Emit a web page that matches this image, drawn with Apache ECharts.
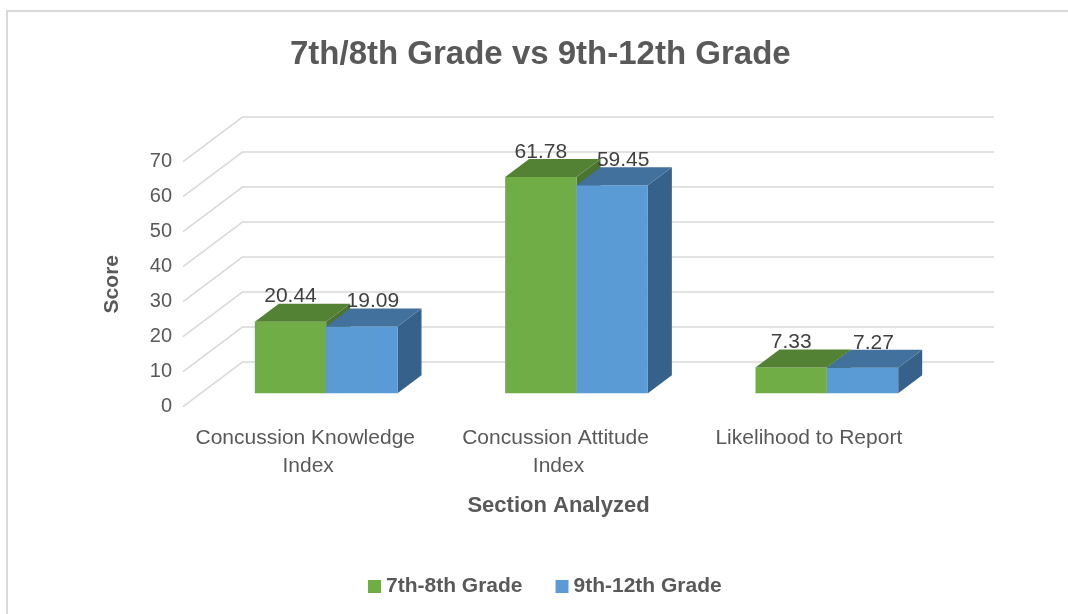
<!DOCTYPE html>
<html>
<head>
<meta charset="utf-8">
<script src="https://cdn.jsdelivr.net/npm/echarts@6/dist/echarts.min.js"></script>
<style>
  html, body { margin: 0; padding: 0; background: #fff; }
  #main { width: 1068px; height: 614px; }
</style>
</head>
<body>
<div id="main"></div>
<script>
var categories = ["Concussion Knowledge Index", "Concussion Attitude Index", "Likelihood to Report"];
var grade78 = [20.44, 61.78, 7.33];
var grade912 = [19.09, 59.45, 7.27];
var yTicks = [0, 10, 20, 30, 40, 50, 60, 70];

var chartDom = document.getElementById("main");
var myChart = echarts.init(chartDom);

// depth of the 3d box: back wall -> front edge
var DX = 60, DY = 45;
var FRONT = 0.7, BACK = 0.3; // bar depth position (0 = back wall)
var FONT = "Liberation Sans";

// colors: front, top, side
var colors = [
  ["#70AD47", "#548235", "#4A7430"],
  ["#5B9BD5", "#41719C", "#36618A"],
];

function barRender(sIdx) {
  return function (params, api) {
    var i = api.value(0);
    var v = api.value(1);
    var top = api.coord([i, v]);
    var base = api.coord([i, 0]);
    var band = api.size([1, 0])[0];
    var bw = band * 0.285;
    var x0 = top[0] - bw + sIdx * bw - FRONT * DX;
    var x1 = x0 + bw;
    var yT = top[1] + FRONT * DY;
    var yB = base[1] + FRONT * DY;
    var dx = (FRONT - BACK) * DX;
    var dy = (FRONT - BACK) * DY;
    var c = colors[sIdx];
    return {
      type: "group",
      children: [
        {
          type: "polygon",
          shape: { points: [[x1, yT], [x1 + dx, yT - dy], [x1 + dx, yB - dy], [x1, yB]] },
          style: { fill: c[2] },
        },
        {
          type: "rect",
          shape: { x: x0, y: yT, width: bw, height: yB - yT },
          style: { fill: c[0] },
        },
        {
          type: "polygon",
          shape: { points: [[x0, yT], [x1, yT], [x1 + dx, yT - dy], [x0 + dx, yT - dy]] },
          style: { fill: c[1] },
        },
        {
          type: "text",
          style: {
            x: (x0 + x1) / 2 + sIdx * 11,
            y: yT - dy - 7,
            text: v.toFixed(2),
            fill: "#404040",
            font: "21px '" + FONT + "'",
            align: "center",
            verticalAlign: "middle",
          },
          z2: 10,
        },
      ],
    };
  };
}

var option = {
  animation: false,
  textStyle: { fontFamily: FONT },
  graphic: [
    {
      type: "rect",
      shape: { x: 7, y: 11, width: 1100, height: 700 },
      style: { fill: "none", stroke: "#d9d9d9", lineWidth: 2 },
      silent: true,
    },
  ],
  title: {
    text: "7th/8th Grade vs 9th-12th Grade",
    left: 290,
    top: 38,
    padding: 0,
    textStyle: { fontSize: 33, fontWeight: "bold", color: "#595959", lineHeight: 33 },
  },
  legend: {
    data: ["7th-8th Grade", "9th-12th Grade"],
    left: 368,
    top: 576,
    padding: 0,
    icon: "rect",
    itemWidth: 13,
    itemHeight: 13,
    itemGap: 33,
    textStyle: { fontSize: 21, fontWeight: "bold", color: "#595959" },
  },
  grid: [
    // back wall
    { left: 243, right: 74, top: 116.7, bottom: 252.3 },
    // front plane
    { left: 183, right: 134, top: 161.7, bottom: 207.3 },
  ],
  xAxis: [
    { type: "category", data: categories, gridIndex: 0, show: false },
    {
      type: "category",
      data: categories,
      gridIndex: 1,
      axisLine: { show: false },
      axisTick: { show: false },
      axisLabel: {
        interval: 0,
        fontSize: 21,
        color: "#595959",
        margin: 18,
        lineHeight: 28,
        width: 240,
        overflow: "break",
      },
      name: "Section Analyzed",
      nameLocation: "middle",
      nameGap: 88,
      nameTextStyle: { fontSize: 22, fontWeight: "bold", color: "#595959" },
    },
  ],
  yAxis: [
    {
      type: "value",
      gridIndex: 0,
      min: 0,
      max: 70,
      interval: 10,
      axisLabel: { show: false },
      axisLine: { show: false },
      axisTick: { show: false },
      splitLine: { show: true, lineStyle: { color: "#d9d9d9", width: 1.5 } },
    },
    {
      type: "value",
      gridIndex: 1,
      min: 0,
      max: 70,
      interval: 10,
      axisLine: { show: false },
      axisTick: { show: false },
      splitLine: { show: false },
      axisLabel: { fontSize: 20, color: "#595959", margin: 11 },
      name: "Score",
      nameLocation: "middle",
      nameGap: 60,
      nameTextStyle: { fontSize: 21, fontWeight: "bold", color: "#595959" },
    },
  ],
  series: [
    {
      name: "walls",
      type: "custom",
      xAxisIndex: 0,
      yAxisIndex: 0,
      silent: true,
      z: 1,
      data: yTicks.map(function (t) { return [0, t]; }),
      renderItem: function (params, api) {
        var y = api.coord([0, api.value(1)])[1];
        var x = params.coordSys.x;
        return {
          type: "line",
          shape: { x1: x, y1: y, x2: x - DX, y2: y + DY },
          style: { stroke: "#d9d9d9", lineWidth: 1.5 },
        };
      },
    },
    {
      name: "7th-8th Grade",
      type: "custom",
      xAxisIndex: 0,
      yAxisIndex: 0,
      z: 2,
      itemStyle: { color: colors[0][0] },
      data: grade78.map(function (v, i) { return [i, v]; }),
      renderItem: barRender(0),
    },
    {
      name: "9th-12th Grade",
      type: "custom",
      xAxisIndex: 0,
      yAxisIndex: 0,
      z: 3,
      itemStyle: { color: colors[1][0] },
      data: grade912.map(function (v, i) { return [i, v]; }),
      renderItem: barRender(1),
    },
  ],
};

option && myChart.setOption(option);
</script>
</body>
</html>
